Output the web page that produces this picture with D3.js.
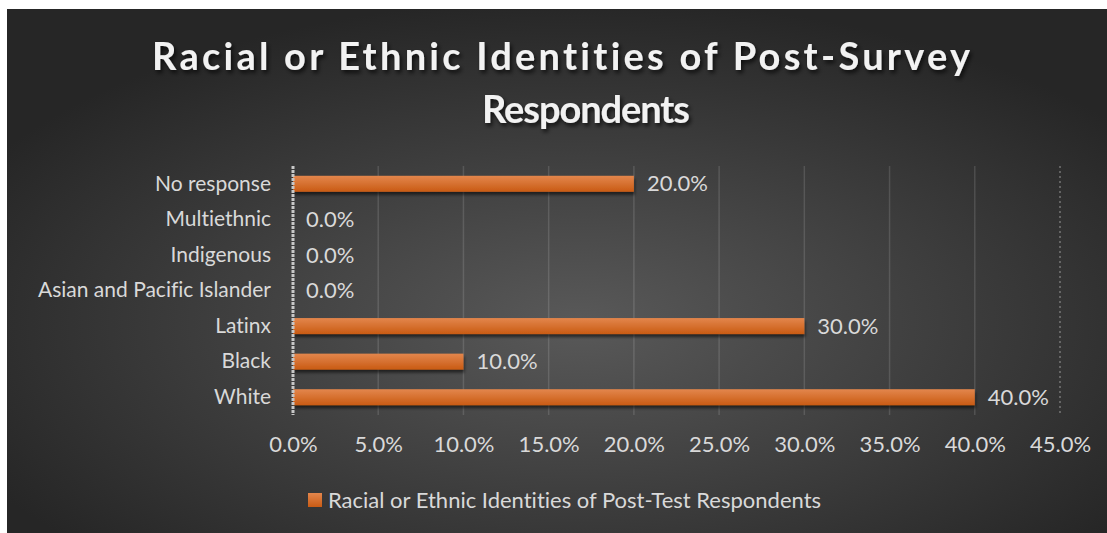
<!DOCTYPE html>
<html>
<head>
<meta charset="utf-8">
<script src="https://cdn.jsdelivr.net/npm/d3@7"></script>
<style>
  html, body { margin: 0; padding: 0; background: #fff; }
  svg { display: block; }
  text { font-variant-ligatures: none; }
</style>
</head>
<body>
<script>
// data, in the sheet's order (bottom to top on the chart)
const categories = ["White", "Black", "Latinx", "Asian and Pacific Islander", "Indigenous", "Multiethnic", "No response"];
const shares = [0.40, 0.10, 0.30, 0.00, 0.00, 0.00, 0.20];
const xTicks = [0, 0.05, 0.10, 0.15, 0.20, 0.25, 0.30, 0.35, 0.40, 0.45];
const titleLines = ["Racial or Ethnic Identities of Post-Survey", "Respondents"];
const seriesName = "Racial or Ethnic Identities of Post-Test Respondents";

const width = 1107, height = 533;
const font = "Lato, 'Open Sans', sans-serif";
const textColor = "#d9d9d9";

const svg = d3.select("body").append("svg")
    .attr("width", width)
    .attr("height", height);

const defs = svg.append("defs");

const bg = defs.append("radialGradient")
    .attr("id", "bg")
    .attr("cx", "52%").attr("cy", "60%").attr("r", "62%");
bg.append("stop").attr("offset", "0%").attr("stop-color", "#595959");
bg.append("stop").attr("offset", "100%").attr("stop-color", "#262626");

const barFill = defs.append("linearGradient")
    .attr("id", "bar")
    .attr("x1", 0).attr("y1", 0).attr("x2", 0).attr("y2", 1);
barFill.append("stop").attr("offset", "0%").attr("stop-color", "#e3864c");
barFill.append("stop").attr("offset", "100%").attr("stop-color", "#c95b14");

defs.append("filter").attr("id", "barShadow")
    .attr("x", "-5%").attr("y", "-50%").attr("width", "110%").attr("height", "200%")
  .append("feDropShadow")
    .attr("dx", 1).attr("dy", 3).attr("stdDeviation", 1.5)
    .attr("flood-color", "#000").attr("flood-opacity", 0.55);

defs.append("filter").attr("id", "titleShadow")
    .attr("x", "-5%").attr("y", "-30%").attr("width", "110%").attr("height", "160%")
  .append("feDropShadow")
    .attr("dx", 2).attr("dy", 3).attr("stdDeviation", 2)
    .attr("flood-color", "#000").attr("flood-opacity", 0.7);

// chart area
svg.append("rect")
    .attr("x", 7).attr("y", 9)
    .attr("width", width - 7).attr("height", height - 9)
    .attr("fill", "url(#bg)");

// title
const title = svg.append("g")
    .attr("fill", "#f2f2f2")
    .attr("font-family", font)
    .attr("font-weight", "bold")
    .attr("font-size", 38)
    .attr("text-anchor", "middle")
    .attr("filter", "url(#titleShadow)");
title.append("text")
    .attr("x", 561).attr("y", 70)
    .attr("textLength", 818).attr("lengthAdjust", "spacing")
    .text(titleLines[0]);
title.append("text")
    .attr("x", 586).attr("y", 123)
    .attr("textLength", 208).attr("lengthAdjust", "spacing")
    .text(titleLines[1]);

// scales
const x = d3.scaleLinear()
    .domain([0, 0.45])
    .range([293, 1060]);

const y = d3.scaleBand()
    .domain(categories.slice().reverse())
    .range([166, 415])
    .paddingInner(0.55)
    .paddingOuter(0.275);

const pct = d3.format(".1%");

// gridlines
svg.append("g")
    .selectAll("line")
    .data(xTicks.filter(d => d > 0 && d < 0.45))
    .join("line")
      .attr("x1", d => x(d)).attr("x2", d => x(d))
      .attr("y1", 166).attr("y2", 415)
      .attr("stroke", "#ffffff")
      .attr("stroke-opacity", 0.13)
      .attr("stroke-width", 1.5);

svg.append("line")
    .attr("x1", x(0.45)).attr("x2", x(0.45))
    .attr("y1", 166).attr("y2", 415)
    .attr("stroke", "#bfbfbf")
    .attr("stroke-opacity", 0.6)
    .attr("stroke-width", 1.2)
    .attr("stroke-dasharray", "2,3");

// bars
const rows = categories.map((c, i) => ({ category: c, value: shares[i] }));

svg.append("g")
    .attr("filter", "url(#barShadow)")
    .selectAll("rect")
    .data(rows.filter(d => d.value > 0))
    .join("rect")
      .attr("x", x(0))
      .attr("y", d => y(d.category))
      .attr("width", d => x(d.value) - x(0))
      .attr("height", y.bandwidth())
      .attr("fill", "url(#bar)");

// left axis line
svg.append("line")
    .attr("x1", x(0)).attr("x2", x(0))
    .attr("y1", 166).attr("y2", 415)
    .attr("stroke", "#c8c8c8")
    .attr("stroke-width", 3)
    .attr("stroke-dasharray", "3,1");

// data labels
svg.append("g")
    .attr("font-family", font)
    .attr("font-size", 22)
    .attr("fill", textColor)
    .selectAll("text")
    .data(rows)
    .join("text")
      .attr("x", d => x(d.value) + 13)
      .attr("y", d => y(d.category) + y.bandwidth() / 2)
      .attr("dy", "0.35em")
      .text(d => pct(d.value));

// category axis
const yAxis = svg.append("g")
    .attr("transform", `translate(${x(0) - 22},0)`)
    .call(d3.axisLeft(y).tickSize(0).tickPadding(0));
yAxis.select(".domain").remove();
yAxis.selectAll("text")
    .attr("font-family", font)
    .attr("font-size", 21)
    .attr("fill", textColor);

// value axis
const xAxis = svg.append("g")
    .attr("transform", "translate(0,436)")
    .call(d3.axisBottom(x).tickValues(xTicks).tickFormat(pct).tickSize(0).tickPadding(0));
xAxis.select(".domain").remove();
xAxis.selectAll("text")
    .attr("font-family", font)
    .attr("font-size", 22)
    .attr("fill", textColor);

// legend
const legend = svg.append("g").attr("transform", "translate(308,493)");
legend.append("rect")
    .attr("width", 14).attr("height", 14)
    .attr("fill", "url(#bar)");
legend.append("text")
    .attr("x", 20).attr("y", 7)
    .attr("dy", "0.35em")
    .attr("font-family", font)
    .attr("font-size", 22)
    .attr("fill", textColor)
    .text(seriesName);
</script>
</body>
</html>
